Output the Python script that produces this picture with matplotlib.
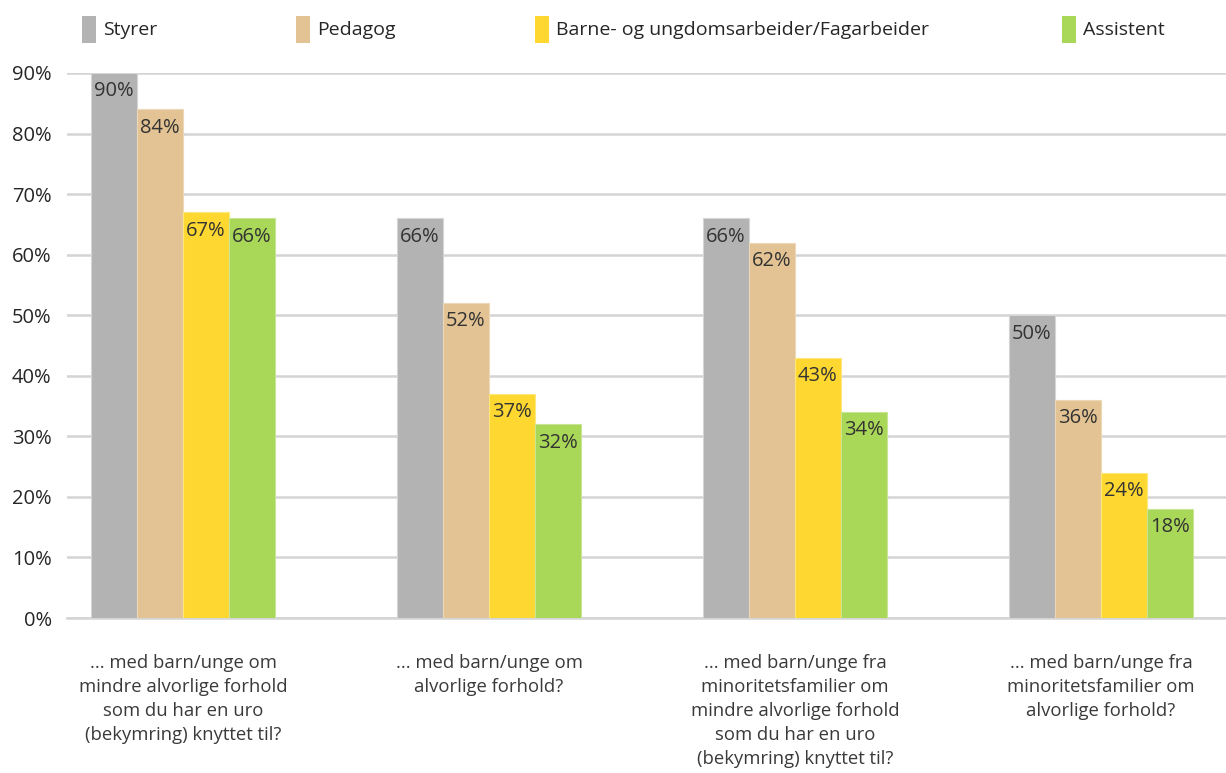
import numpy as np
import matplotlib
matplotlib.use('Agg')
import matplotlib.pyplot as plt
from matplotlib.patches import Rectangle

plt.rcParams['font.family'] = ['Open Sans', 'DejaVu Sans']

# data
categories = [
    "... med barn/unge om\nmindre alvorlige forhold\nsom du har en uro\n(bekymring) knyttet til?",
    "... med barn/unge om\nalvorlige forhold?",
    "... med barn/unge fra\nminoritetsfamilier om\nmindre alvorlige forhold\nsom du har en uro\n(bekymring) knyttet til?",
    "... med barn/unge fra\nminoritetsfamilier om\nalvorlige forhold?",
]
series = ["Styrer", "Pedagog", "Barne- og ungdomsarbeider/Fagarbeider", "Assistent"]
styrer = [90, 66, 66, 50]
pedagog = [84, 52, 62, 36]
barne = [67, 37, 43, 24]
assistent = [66, 32, 34, 18]
values = [styrer, pedagog, barne, assistent]
yticks = [0, 10, 20, 30, 40, 50, 60, 70, 80, 90]

colors = ['#b3b3b3', '#e3c393', '#fed830', '#a9d757']
edge = ['#d6d6d6', '#ecd8b8', '#fee77a', '#c8e595']

W, H = 1226, 773
fig = plt.figure(figsize=(W / 100, H / 100), dpi=100)
# plot area: x 67..1226 px, y 73..618 px
ax = fig.add_axes([67 / W, 1 - 618 / H, (W - 67) / W, (618 - 73) / H])

x = np.arange(len(categories))
bw = 46 / 306
for i, (vals, c, e) in enumerate(zip(values, colors, edge)):
    pos = x + (i - 1.5) * bw
    ax.bar(pos, vals, width=bw, color=c, edgecolor=e, linewidth=0.8, zorder=3)
    for p, v in zip(pos, vals):
        ax.annotate(f"{v}%", (p, v), xytext=(0, -6), textcoords='offset points',
                    ha='center', va='top', fontsize=14.5, color='#333333', zorder=4)

ax.set_ylim(0, 90)
ax.set_xlim((67 - 183) / 306, (W - 183) / 306)
ax.set_yticks(yticks)
ax.set_yticklabels([f"{t}%" for t in yticks], fontsize=14.5, color='#262626')
ax.yaxis.grid(True, color='#d4d4d4', linewidth=1.8, zorder=0)
ax.tick_params(axis='y', length=0, pad=11)
ax.set_xticks(x)
ax.set_xticklabels(categories, fontsize=13.3, color='#3a3a3a', linespacing=1.42)
ax.tick_params(axis='x', length=0, pad=26)
for s in ['top', 'right', 'left']:
    ax.spines[s].set_visible(False)
ax.spines['bottom'].set_color('#d4d4d4')
ax.spines['bottom'].set_linewidth(1.8)
ax.spines['bottom'].set_zorder(2)

# legend
leg_x = [82, 296, 535, 1062]
for lx, name, c in zip(leg_x, series, colors):
    fig.patches.append(Rectangle((lx / W, 1 - 43 / H), 14 / W, 27 / H,
                                 transform=fig.transFigure, facecolor=c,
                                 edgecolor='none'))
    fig.text((lx + 21) / W, 1 - 30 / H, name, fontsize=14, color='#262626',
             va='center', ha='left')

fig.savefig('out.png', dpi=100)
